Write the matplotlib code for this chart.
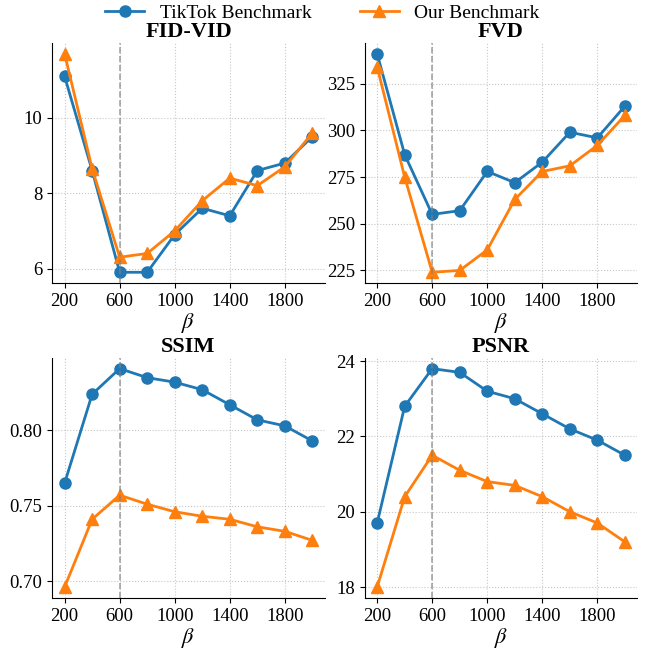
import numpy as np
import matplotlib.pyplot as plt

plt.rcParams['font.family'] = ['Liberation Serif', 'DejaVu Serif']
plt.rcParams['mathtext.fontset'] = 'stix'

beta = [200, 400, 600, 800, 1000, 1200, 1400, 1600, 1800, 2000]

fid_tiktok = [11.1, 8.6, 5.9, 5.9, 6.9, 7.6, 7.4, 8.6, 8.8, 9.5]
fid_ours = [11.7, 8.65, 6.3, 6.4, 7.0, 7.8, 8.4, 8.2, 8.7, 9.6]

fvd_tiktok = [341, 287, 255, 257, 278, 272, 283, 299, 296, 313]
fvd_ours = [334, 275, 224, 225, 236, 263, 278, 281, 292, 308]

ssim_tiktok = [0.765, 0.824, 0.841, 0.835, 0.832, 0.827, 0.817, 0.807, 0.803, 0.793]
ssim_ours = [0.696, 0.741, 0.757, 0.751, 0.746, 0.743, 0.741, 0.736, 0.733, 0.727]

psnr_tiktok = [19.7, 22.8, 23.8, 23.7, 23.2, 23.0, 22.6, 22.2, 21.9, 21.5]
psnr_ours = [18.0, 20.4, 21.5, 21.1, 20.8, 20.7, 20.4, 20.0, 19.7, 19.2]

panels = [
    ('FID-VID', fid_tiktok, fid_ours),
    ('FVD', fvd_tiktok, fvd_ours),
    ('SSIM', ssim_tiktok, ssim_ours),
    ('PSNR', psnr_tiktok, psnr_ours),
]

fig, axes = plt.subplots(2, 2, figsize=(6.45, 6.5), dpi=100)

for ax, (title, tk, ours) in zip(axes.flat, panels):
    ax.plot(beta, tk, color='#1f77b4', marker='o', markersize=8, linewidth=2,
            label='TikTok Benchmark')
    ax.plot(beta, ours, color='#ff7f0e', marker='^', markersize=8, linewidth=2,
            label='Our Benchmark')
    ax.axvline(600, color='grey', linestyle='--', linewidth=1.2, alpha=0.7)
    ax.set_title(title, fontsize=16, fontweight='bold', pad=4)
    ax.set_xlabel(r'$\beta$', fontsize=16, labelpad=1)
    ax.set_xticks([200, 600, 1000, 1400, 1800])
    ax.tick_params(labelsize=13.5)
    ax.grid(True, linestyle=':', linewidth=0.8, alpha=0.7)
    ax.spines['top'].set_visible(False)
    ax.spines['right'].set_visible(False)

handles, labels = axes[0, 0].get_legend_handles_labels()
fig.legend(handles, labels, loc='upper center', ncol=2, frameon=False,
           fontsize=14, bbox_to_anchor=(0.5, 1.02), columnspacing=2.5)

fig.subplots_adjust(left=0.081, right=0.988, top=0.934, bottom=0.08,
                    wspace=0.147, hspace=0.31)
fig.savefig('out.png')
